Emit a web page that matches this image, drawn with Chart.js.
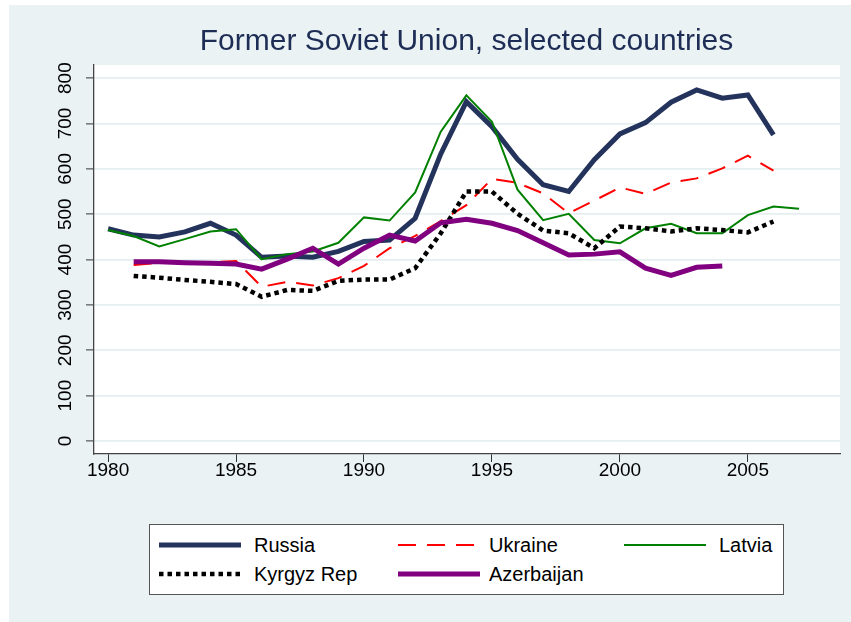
<!DOCTYPE html>
<html>
<head>
<meta charset="utf-8">
<title>Former Soviet Union, selected countries</title>
<script src="https://cdn.jsdelivr.net/npm/chart.js@4/dist/chart.umd.min.js"></script>
<style>
  body { margin: 0; background: #fff; }
  #wrap { position: relative; width: 851px; height: 622px; overflow: hidden; }
  #bg { position: absolute; left: 9px; top: 5px; width: 842px; height: 617px; background: #eaf2f3; }
  #chart { position: absolute; left: 0; top: 0; }
  #legend {
    position: absolute; left: 149px; top: 524px; width: 633px; height: 69px;
    background: #fff; border: 1px solid #555;
    font-family: "Liberation Sans", Arial, sans-serif; font-size: 20px; color: #000;
  }
  .item { position: absolute; height: 24px; line-height: 24px; white-space: nowrap; }
  .item svg { position: absolute; left: 0; top: 0; }
  .item span { position: absolute; top: 0; }
</style>
</head>
<body>
<div id="wrap">
  <div id="bg"></div>
  <canvas id="chart" width="851" height="622"></canvas>
  <div id="legend"></div>
</div>
<script>
'use strict';

const years = [1980, 1981, 1982, 1983, 1984, 1985, 1986, 1987, 1988, 1989,
  1990, 1991, 1992, 1993, 1994, 1995, 1996, 1997, 1998, 1999,
  2000, 2001, 2002, 2003, 2004, 2005, 2006, 2007];

const russia = [468, 454, 450, 461, 480, 454, 405, 408, 405, 418,
  440, 443, 491, 633, 748, 693, 621, 565, 550, 620,
  677, 702, 747, 774, 756, 763, 675, null];
const ukraine = [null, 388, 393, 394, 394, 397, 340, 351, 343, 359,
  386, 425, 452, 485, 520, 578, 569, 546, 502, 530,
  559, 545, 570, 579, 601, 629, 596, null];
const latvia = [465, 452, 429, 445, 462, 467, 401, 412, 418, 437,
  493, 486, 548, 682, 762, 704, 554, 487, 501, 443,
  436, 469, 479, 458, 458, 498, 517, 512];
const kyrgyz = [null, 364, 360, 355, 351, 346, 318, 333, 331, 353,
  356, 356, 381, 458, 550, 550, 501, 464, 458, 425,
  473, 469, 462, 469, 465, 460, 484, null];
const azerbaijan = [null, 395, 395, 393, 392, 390, 379, 401, 425, 390,
  425, 454, 441, 481, 489, 480, 464, 437, 410, 412,
  417, 381, 365, 383, 386, null, null, null];

const xTicks = [1980, 1985, 1990, 1995, 2000, 2005];
const yTicks = [0, 100, 200, 300, 400, 500, 600, 700, 800];

const FONT = '"Liberation Sans", Arial, sans-serif';

const toPoints = (values) => years.map((yr, i) => ({ x: yr, y: values[i] }));

// white plot region behind the lines
const plotBg = {
  id: 'plotBg',
  beforeDraw(chart) {
    const { ctx, chartArea: a } = chart;
    ctx.save();
    ctx.fillStyle = '#fff';
    ctx.fillRect(a.left, a.top, a.right - a.left, a.bottom - a.top);
    ctx.restore();
  }
};

// y tick labels, turned on their side
const yLabels = {
  id: 'yLabels',
  afterDraw(chart) {
    const { ctx } = chart;
    const y = chart.scales.y;
    ctx.save();
    ctx.font = '19px ' + FONT;
    ctx.fillStyle = '#000';
    ctx.textAlign = 'center';
    ctx.textBaseline = 'middle';
    y.ticks.forEach(t => {
      ctx.save();
      ctx.translate(66, y.getPixelForValue(t.value));
      ctx.rotate(-Math.PI / 2);
      ctx.fillText(String(t.value), 0, 0);
      ctx.restore();
    });
    ctx.restore();
  }
};

const line = (label, values, color, width, dash, order) => ({
  label: label,
  data: toPoints(values),
  borderColor: color,
  backgroundColor: color,
  borderWidth: width,
  borderDash: dash,
  borderCapStyle: 'butt',
  pointRadius: 0,
  tension: 0,
  spanGaps: false,
  order: order
});

const ctx = document.querySelector('#chart').getContext('2d');
const myChart = new Chart(ctx, {
  type: 'line',
  data: {
    datasets: [
      line('Russia', russia, '#24335c', 5, [], 5),
      line('Ukraine', ukraine, '#ff0000', 2, [18, 11], 4),
      line('Latvia', latvia, '#008000', 2, [], 3),
      line('Kyrgyz Rep', kyrgyz, '#000000', 4.5, [4.5, 4], 2),
      line('Azerbaijan', azerbaijan, '#800080', 5, [], 1)
    ]
  },
  options: {
    responsive: false,
    animation: false,
    layout: { padding: { left: 93, right: 11, top: 0, bottom: 128 } },
    scales: {
      x: {
        type: 'linear',
        min: 1979.45,
        max: 2008.6,
        afterBuildTicks: s => { s.ticks = xTicks.map(v => ({ value: v })); },
        afterFit: s => { s.height = 40; },
        ticks: {
          autoSkip: false,
          maxRotation: 0,
          padding: -3,
          color: '#000',
          font: { family: FONT, size: 19 },
          callback: v => String(v)
        },
        grid: { drawOnChartArea: false, tickLength: 8, tickColor: '#333', tickWidth: 1 },
        border: { color: '#444', width: 1.3 }
      },
      y: {
        min: -28.7,
        max: 829,
        afterBuildTicks: s => { s.ticks = yTicks.map(v => ({ value: v })); },
        afterFit: s => { s.width = 1; },
        ticks: { display: false },
        grid: { color: '#e6eff0', lineWidth: 1.8, tickLength: 8, tickColor: '#333', tickWidth: 1 },
        border: { color: '#444', width: 1.3 }
      }
    },
    plugins: {
      legend: { display: false },
      tooltip: { enabled: false },
      title: {
        display: true,
        text: 'Former Soviet Union, selected countries',
        color: '#1e2d55',
        font: { family: FONT, size: 30, weight: 'normal' },
        padding: { top: 24, bottom: 5 }
      }
    }
  },
  plugins: [plotBg, yLabels]
});

// legend box, three columns
const legendBox = document.querySelector('#legend');
const colX = [9, 248, 474];
const rowY = [8, 37];
myChart.data.datasets.forEach((ds, i) => {
  const item = document.createElement('div');
  item.className = 'item';
  item.style.left = colX[i % 3] + 'px';
  item.style.top = rowY[Math.floor(i / 3)] + 'px';
  const dash = ds.borderDash.length ? `stroke-dasharray="${ds.borderDash.join(' ')}"` : '';
  item.innerHTML = `
    <svg width="82" height="24"><line x1="0" y1="12" x2="82" y2="12" stroke="${ds.borderColor}"
      stroke-width="${ds.borderWidth}" ${dash}/></svg>
    <span style="left:${i % 3 === 1 ? 91 : 95}px">${ds.label}</span>
  `;
  legendBox.appendChild(item);
});
</script>
</body>
</html>
